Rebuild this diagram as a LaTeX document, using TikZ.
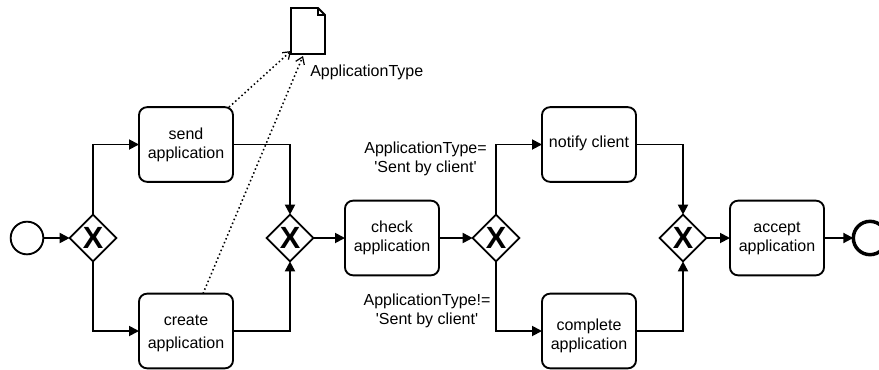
\documentclass[tikz,border=0pt]{standalone}
\usepackage{fontspec}
\setmainfont{Liberation Sans}
\usetikzlibrary{arrows.meta, positioning, shapes.geometric, calc}

\begin{document}
\begin{tikzpicture}[x=0.75pt, y=-0.75pt, font=\fontsize{12}{14.25}\selectfont,
            task/.style={draw, line width=1.4pt, rounded corners=6pt, align=center, outer sep=0pt,
                         minimum width=70.5pt, minimum height=56pt, inner sep=0pt},
            gateway/.style={draw, diamond, line width=1.4pt, outer sep=0pt, inner sep=0pt,
                            minimum width=35pt, minimum height=35pt,
                            font=\fontsize{23}{23}\selectfont\bfseries},
            event/.style={draw, circle, outer sep=0pt, inner sep=0pt},
            flow/.style={line width=1.4pt, -{Triangle[length=7.5pt, width=7.5pt]}},
            assoc/.style={line width=1.15pt, dotted, -{Straight Barb[length=5pt, width=7pt, line width=0.9pt]}},
            lbl/.style={align=center, inner sep=0pt}]
            \useasboundingbox (0,0) rectangle (879,369);
            % events and gateways on the middle row
            \node[event, line width=1.4pt, minimum size=24.5pt] (start) at (27,238) {};
            \node[gateway] (split1) at (93,238) {X};
            \node[gateway] (join1) at (290,238) {X};
            \node[task] (check) at (392,238) {check\\application};
            \node[gateway] (split2) at (496,238) {X};
            \node[gateway] (join2) at (683,238) {X};
            \node[task] (accept) at (777,238) {accept\\application};
            \node[event, line width=2.6pt, minimum size=25pt] (end) at (870,238) {};
            % tasks
            \node[task] (send) at (186,144.5) {send\\application};
            \node[task] (create) at (186,331) {\rule{0pt}{11.7pt}create\\[3pt]application};
            \node[task] (notify) at (589,144.5) {\rule[-4.5pt]{0pt}{0pt}notify client};
            \node[task] (complete) at (589,331) {\rule{0pt}{16.5pt}complete\\application};
            % data object
            \node[minimum width=25.5pt, minimum height=34.5pt, inner sep=0pt, outer sep=0pt] (doc) at (308,31) {};
            \draw[line width=1.4pt, fill=white] (doc.north west) -- ($(doc.north east)+(-7,0)$)
              -- ($(doc.north east)+(0,7)$) -- (doc.south east) -- (doc.south west) -- cycle;
            \draw[line width=0.9pt] ($(doc.north east)+(-7,0)$) -- ($(doc.north east)+(-7,7)$)
              -- ($(doc.north east)+(0,7)$);
            % labels
            \node[lbl, anchor=west] (doclabel) at (310,72) {ApplicationType};
            \node[lbl] (condyes) at (425.5,159) {ApplicationType=\\\textquotesingle Sent by client\textquotesingle};
            \node[lbl] (condno) at (427,311) {ApplicationType!=\\\textquotesingle Sent by client\textquotesingle};
            % sequence flows
            \draw[flow] (start) -- (split1);
            \draw[flow] (split1) |- (send);
            \draw[flow] (split1) |- (create);
            \draw[flow] (send) -| (join1);
            \draw[flow] (create) -| (join1);
            \draw[flow] (join1) -- (check);
            \draw[flow] (check) -- (split2);
            \draw[flow] (split2) |- (notify);
            \draw[flow] (split2) |- (complete);
            \draw[flow] (notify) -| (join2);
            \draw[flow] (complete) -| (join2);
            \draw[flow] (join2) -- (accept);
            \draw[flow] (accept) -- (end);
            % data associations
            \draw[assoc] ($(send.north east)+(-4,0)$) -- ($(doc.south west)+(0,-3)$);
            \draw[assoc] ($(create.north)+(17,0)$) -- ($(doc.south)+(-5,2)$);
          \end{tikzpicture}
\end{document}
